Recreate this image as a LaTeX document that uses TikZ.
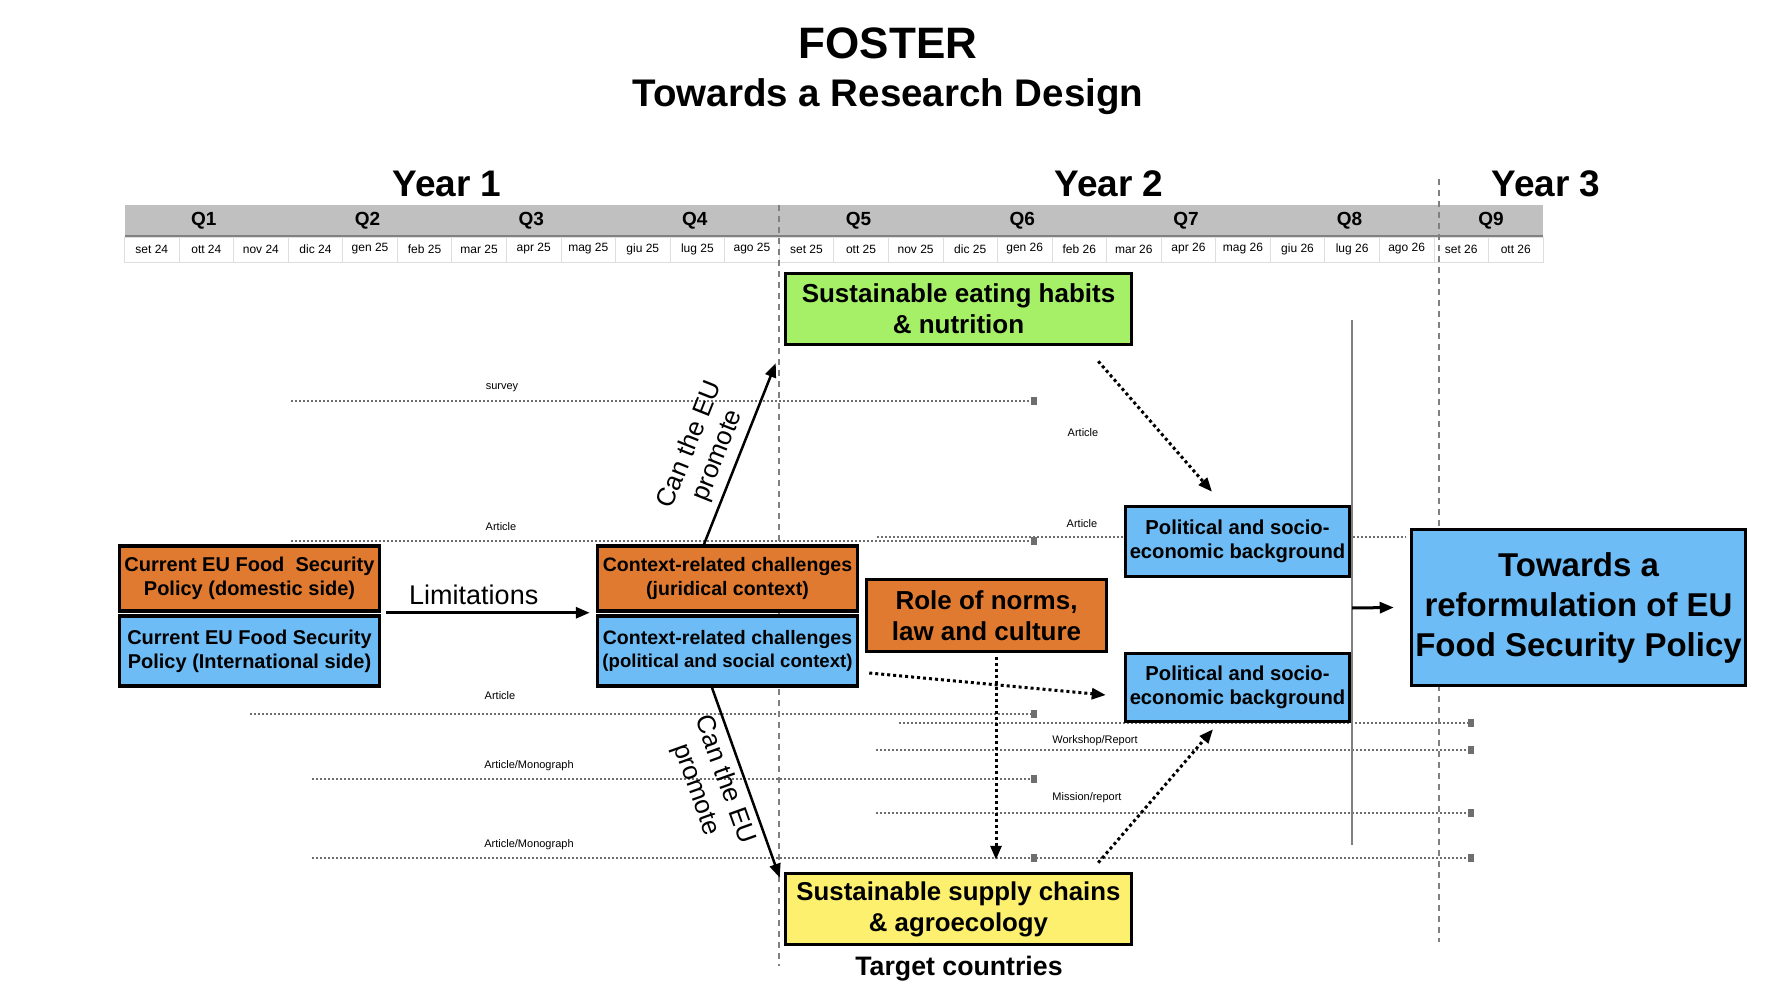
\documentclass[tikz,border=0pt]{standalone}
\usepackage{fontspec}
\setmainfont{Liberation Sans}
\usetikzlibrary{arrows.meta,positioning}
\definecolor{orfill}{RGB}{224,122,48}
\definecolor{blfill}{RGB}{110,188,245}
\definecolor{grfill}{RGB}{166,240,104}
\definecolor{yefill}{RGB}{252,240,110}
\definecolor{bandgray}{RGB}{192,192,192}
\definecolor{trackgray}{RGB}{110,110,110}
\definecolor{cellgray}{RGB}{222,222,222}

\begin{document}
\begin{tikzpicture}[x=1pt,y=-1pt]
\tikzset{box/.style={draw, line width=3.5pt, align=center, inner sep=0pt, font=\fontsize{20}{24}\selectfont\bfseries},
  month/.style={font=\fontsize{12}{14}\selectfont, inner sep=0pt},
  quart/.style={font=\fontsize{19}{22}\selectfont\bfseries, inner sep=0pt},
  yearlab/.style={font=\fontsize{37}{42}\selectfont\bfseries, inner sep=0pt},
  tiny/.style={font=\fontsize{11}{13}\selectfont, inner sep=0pt},
  track/.style={trackgray, line width=1.6pt, dash pattern=on 1.6pt off 2.4pt},
  endsq/.style={fill=trackgray, minimum width=6pt, minimum height=8pt, inner sep=0pt},
  yearline/.style={gray, line width=1.5pt, dash pattern=on 6pt off 5pt},
  solidarr/.style={line width=2.5pt, -{Triangle[length=14pt,width=11pt]}},
  dotarr/.style={line width=3pt, dash pattern=on 3pt off 3pt, -{Triangle[length=14pt,width=11pt]}},
  canlab/.style={font=\fontsize{26}{30}\selectfont, align=center, inner sep=1pt}}
\useasboundingbox (0,0) rectangle (1777,1000);

\node[font=\fontsize{44}{50}\selectfont\bfseries] (title) at (888,43) {FOSTER};
\node[font=\fontsize{38.5}{44}\selectfont\bfseries] (subtitle) at (888,97) {Towards a Research Design};

\node[yearlab] (Y1) at (447,184) {Year 1};
\node[yearlab] (Y2) at (1109,184) {Year 2};
\node[yearlab] (Y3) at (1546,184) {Year 3};

\fill[bandgray] (124.5,205) rectangle (1543,236);
\draw[gray, line width=1.2pt] (124.5,236) -- (1543,236);
\foreach \m [count=\i from 0] in {set 24,ott 24,nov 24,dic 24,gen 25,feb 25,mar 25,apr 25,mag 25,giu 25,lug 25,ago 25,set 25,ott 25,nov 25,dic 25,gen 26,feb 26,mar 26,apr 26,mag 26,giu 26,lug 26,ago 26,set 26,ott 26}
{
  \draw[cellgray, line width=0.8pt] ({124.5+54.56*\i},237) rectangle ++(54.56,25);
  \node[month] (m\i) at ({124.5+54.56*(\i+0.5)},249) {\m};
}
\foreach \q in {1,...,8}
  \node[quart] (Q\q) at ({122+54.56*(3*\q-1.5)},221) {Q\q};
\node[quart] (Q9) at (1491,221) {Q9};

\foreach \xa/\yy/\xb in {291/401/1034, 291/541/1034, 877/537/1406, 250/714/1034, 899/723/1471, 876/750/1471, 312/779/1034, 876/813/1471, 312/858/1471}
  \draw[track] (\xa,\yy) -- (\xb,\yy);
\foreach \xx/\yy [count=\k] in {1034/401, 1034/541, 1034/714, 1471/723, 1471/750, 1034/779, 1471/813, 1034/858, 1471/858}
  \node[endsq] (sq\k) at (\xx,\yy) {};

\node[tiny] (lsurvey) at (502,388) {survey};
\node[tiny] (lart1) at (501,527) {Article};
\node[tiny] (lart2) at (1083,433) {Article};
\node[tiny] (lart3) at (1082,524) {Article};
\node[tiny] (lart4) at (500,696) {Article};
\node[tiny] (lwork) at (1095,741) {Workshop/Report};
\node[tiny] (lmono1) at (529,766) {Article/Monograph};
\node[tiny] (lmiss) at (1087,798) {Mission/report};
\node[tiny] (lmono2) at (529,845) {Article/Monograph};

\draw[yearline] (779,205) -- (779,966);
\draw[yearline] (1439,179) -- (1439,942);

\coordinate (vtop) at (1352,320);
\coordinate (vbot) at (1352,845);
\coordinate (vjoin) at (1352,608);
\draw[gray, line width=1.2pt] (vtop) -- (vbot);

\node[box, fill=orfill, minimum width=260, minimum height=65] (dom) at (249.5,578.5) {Current EU Food \ Security\\Policy (domestic side)};
\node[box, fill=blfill, minimum width=260, minimum height=70] (intl) at (249.5,651) {Current EU Food Security\\Policy (International side)};
\node[box, fill=orfill, font=\fontsize{19.5}{23.5}\selectfont\bfseries, minimum width=260, minimum height=65] (jur) at (727.5,578.5) {Context-related challenges\\(juridical context)};
\node[box, fill=blfill, font=\fontsize{19.5}{23.5}\selectfont\bfseries, minimum width=260, minimum height=70] (pol) at (727.5,651) {Context-related challenges\\{\fontsize{18.6}{23.5}\selectfont(political and social context)}};
\node[box, fill=grfill, font=\fontsize{26}{31}\selectfont\bfseries, minimum width=346, minimum height=71] (grn) at (958.5,309) {Sustainable eating habits\\\& nutrition};
\node[box, fill=orfill, font=\fontsize{26}{31}\selectfont\bfseries, minimum width=240, minimum height=72] (norms) at (986.5,615.5) {Role of norms,\\law and culture};
\node[box, fill=blfill, font=\fontsize{20.2}{24.5}\selectfont\bfseries, minimum width=224, minimum height=70] (ptop) at (1237.5,541.5) {Political and socio-\\economic background};
\node[box, fill=blfill, font=\fontsize{20.2}{24.5}\selectfont\bfseries, minimum width=224, minimum height=68] (pbot) at (1237.5,687.5) {Political and socio-\\economic background};
\node[box, fill=yefill, font=\fontsize{25.8}{31}\selectfont\bfseries, minimum width=346, minimum height=71] (yel) at (958.5,909) {Sustainable supply chains\\\& agroecology};
\node[box, fill=blfill, font=\fontsize{33}{40}\selectfont\bfseries, minimum width=334, minimum height=156] (big) at (1578.5,607.5) {Towards a\\reformulation of EU\\Food Security Policy};
\node[font=\fontsize{26.7}{31}\selectfont\bfseries] (target) at (959,969) {Target countries};

\draw[line width=3pt, -{Triangle[length=14pt,width=11pt]}] ([xshift=5pt]dom.south east) -- node[pos=0.43, above=3pt, font=\fontsize{27}{31}\selectfont]{Limitations} ([xshift=-6pt]jur.south west);
\draw[solidarr] ([xshift=-23.5pt]jur.north) -- node[pos=0.45, sloped, above=5pt, canlab]{Can the EU\\promote} ([xshift=-8pt,yshift=-17pt]grn.south west);
\draw[solidarr] ([xshift=-15.5pt]pol.south) -- node[pos=0.45, sloped, below=5pt, canlab]{Can the EU\\promote} ([xshift=-4pt,yshift=-6pt]yel.north west);
\draw[dotarr] ([xshift=-35pt,yshift=-15pt]grn.south east) -- ([xshift=-25.5pt,yshift=13pt]ptop.north);
\draw[dotarr] ([xshift=10pt,yshift=-22pt]pol.east) -- ([xshift=-18pt,yshift=-7.5pt]pbot.west);
\draw[dotarr] ([xshift=9.5pt,yshift=-4pt]norms.south) -- ([xshift=37.5pt,yshift=12pt]yel.north);
\draw[dotarr] ([xshift=-35pt,yshift=9pt]yel.north east) -- ([xshift=-24.5pt,yshift=-6pt]pbot.south);
\draw[line width=3pt, -{Triangle[length=14pt,width=11pt]}] (vjoin) -- ([xshift=-16pt]big.west);
\end{tikzpicture}
\end{document}
